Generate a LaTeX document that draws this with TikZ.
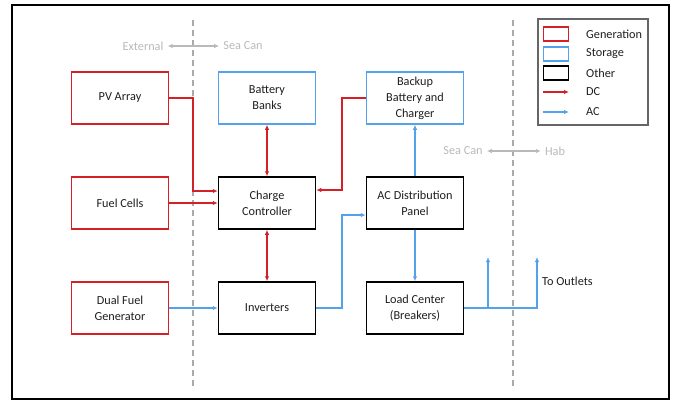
\documentclass[tikz,border=0pt]{standalone}
\usepackage{fontspec}
\setmainfont{Carlito}
\usetikzlibrary{arrows.meta}
\definecolor{gen}{RGB}{212,32,38}
\definecolor{sto}{RGB}{84,162,236}
\definecolor{lab}{RGB}{185,185,185}
\definecolor{txt}{RGB}{30,30,30}
\definecolor{dashc}{RGB}{170,170,170}
\tikzset{
  box/.style={draw=#1, line width=1.5bp, minimum width=97bp, minimum height=52bp,
    align=center, text=txt, font=\fontsize{12.3}{16}\selectfont, inner sep=0pt},
  dc/.style={draw=gen, line width=1.4bp},
  ac/.style={draw=sto, line width=1.4bp},
  tip/.style={-{Latex[length=5bp,width=4.5bp]}},
  tips/.style={{Latex[length=5bp,width=4.5bp]}-{Latex[length=5bp,width=4.5bp]}},
  lbl/.style={text=lab, font=\fontsize{12.3}{14}\selectfont, inner sep=1bp},
  legtxt/.style={text=txt, font=\fontsize{12.3}{14}\selectfont, anchor=west, inner sep=0pt},
  legbox/.style={draw=#1, line width=1.5bp, minimum width=25bp, minimum height=14bp, inner sep=0pt},
  divider/.style={draw=dashc, line width=1.3bp, dash pattern=on 6bp off 4bp}
}
\begin{document}
\begin{tikzpicture}[x=1bp,y=-1bp]
\useasboundingbox (0,0) rectangle (676,401);
\draw[line width=2bp] (12,5) rectangle (669,399);
% dividers
\draw[divider] (193,20) -- (193,386);
\draw[divider] (513,20) -- (513,386);
% region labels
\node[lbl] (ext) at (143,46) {External};
\node[lbl] (sc1) at (243,46) {Sea Can};
\draw[draw=lab, line width=1.1bp, tips] ([xshift=3bp]ext.east) -- ([xshift=-3bp]sc1.west);
\node[lbl] (sc2) at (463,151) {Sea Can};
\node[lbl] (hab) at (555,151) {Hab};
\draw[draw=lab, line width=1.1bp, tips] ([xshift=3bp]sc2.east) -- ([xshift=-3bp]hab.west);
% boxes
\node[box=gen] (pv) at (120,98) {PV Array};
\node[box=gen] (fc) at (120,203) {Fuel Cells};
\node[box=gen] (dfg) at (120,308) {Dual Fuel\\Generator};
\node[box=sto] (bat) at (267,98) {Battery\\Banks};
\node[box=black] (cc) at (267,203) {Charge\\Controller};
\node[box=black] (inv) at (267,308) {Inverters};
\node[box=sto] (bb) at (415,98) {Backup\\Battery and\\Charger};
\node[box=black] (acp) at (415,203) {AC Distribution\\Panel};
\node[box=black] (lc) at (415,308) {Load Center\\(Breakers)};
% junction coordinates
\coordinate (j1) at (193,191);
\coordinate (j2) at (342,190);
\coordinate (j3) at (342,215);
\coordinate (o1) at (488,257);
\coordinate (o2) at (537,257);
% DC connectors
\draw[dc, tip] (pv.east) -| (j1) -- (j1 -| cc.west);
\draw[dc, tip] (fc.east) -- (cc.west);
\draw[dc, tips] (bat.south) -- (cc.north);
\draw[dc, tips] (cc.south) -- (inv.north);
\draw[dc, tip] (bb.west) -| (j2) -- (j2 -| cc.east);
% AC connectors
\draw[ac, tip] (dfg.east) -- (inv.west);
\draw[ac, tip] (inv.east) -| (j3) -- (j3 -| acp.west);
\draw[ac, tip] (acp.north) -- (bb.south);
\draw[ac, tip] (acp.south) -- (lc.north);
\draw[ac, tip] (lc.east) -| (o2);
\draw[ac, tip] (lc.east -| o1) -- (o1);
\node[text=txt, font=\fontsize{12.3}{14}\selectfont, anchor=west, inner sep=0pt] (out) at (542,281) {To Outlets};
% legend
\draw[draw=black!60, line width=1.1bp] (538,19) rectangle (648,125);
\node[legbox=gen] (lg1) at (556,34) {};
\node[legbox=sto] (lg2) at (556,54) {};
\node[legbox=black] (lg3) at (556,73) {};
\coordinate (ld1) at (543,92);
\coordinate (ld2) at (569,92);
\coordinate (la1) at (543,112);
\coordinate (la2) at (569,112);
\draw[dc, tip] (ld1) -- (ld2);
\draw[ac, tip] (la1) -- (la2);
\node[legtxt] (t1) at (586,34) {Generation};
\node[legtxt] (t2) at (586,54) {Storage};
\node[legtxt] (t3) at (586,73) {Other};
\node[legtxt] (t4) at (586,92) {DC};
\node[legtxt] (t5) at (586,112) {AC};
\end{tikzpicture}
\end{document}
